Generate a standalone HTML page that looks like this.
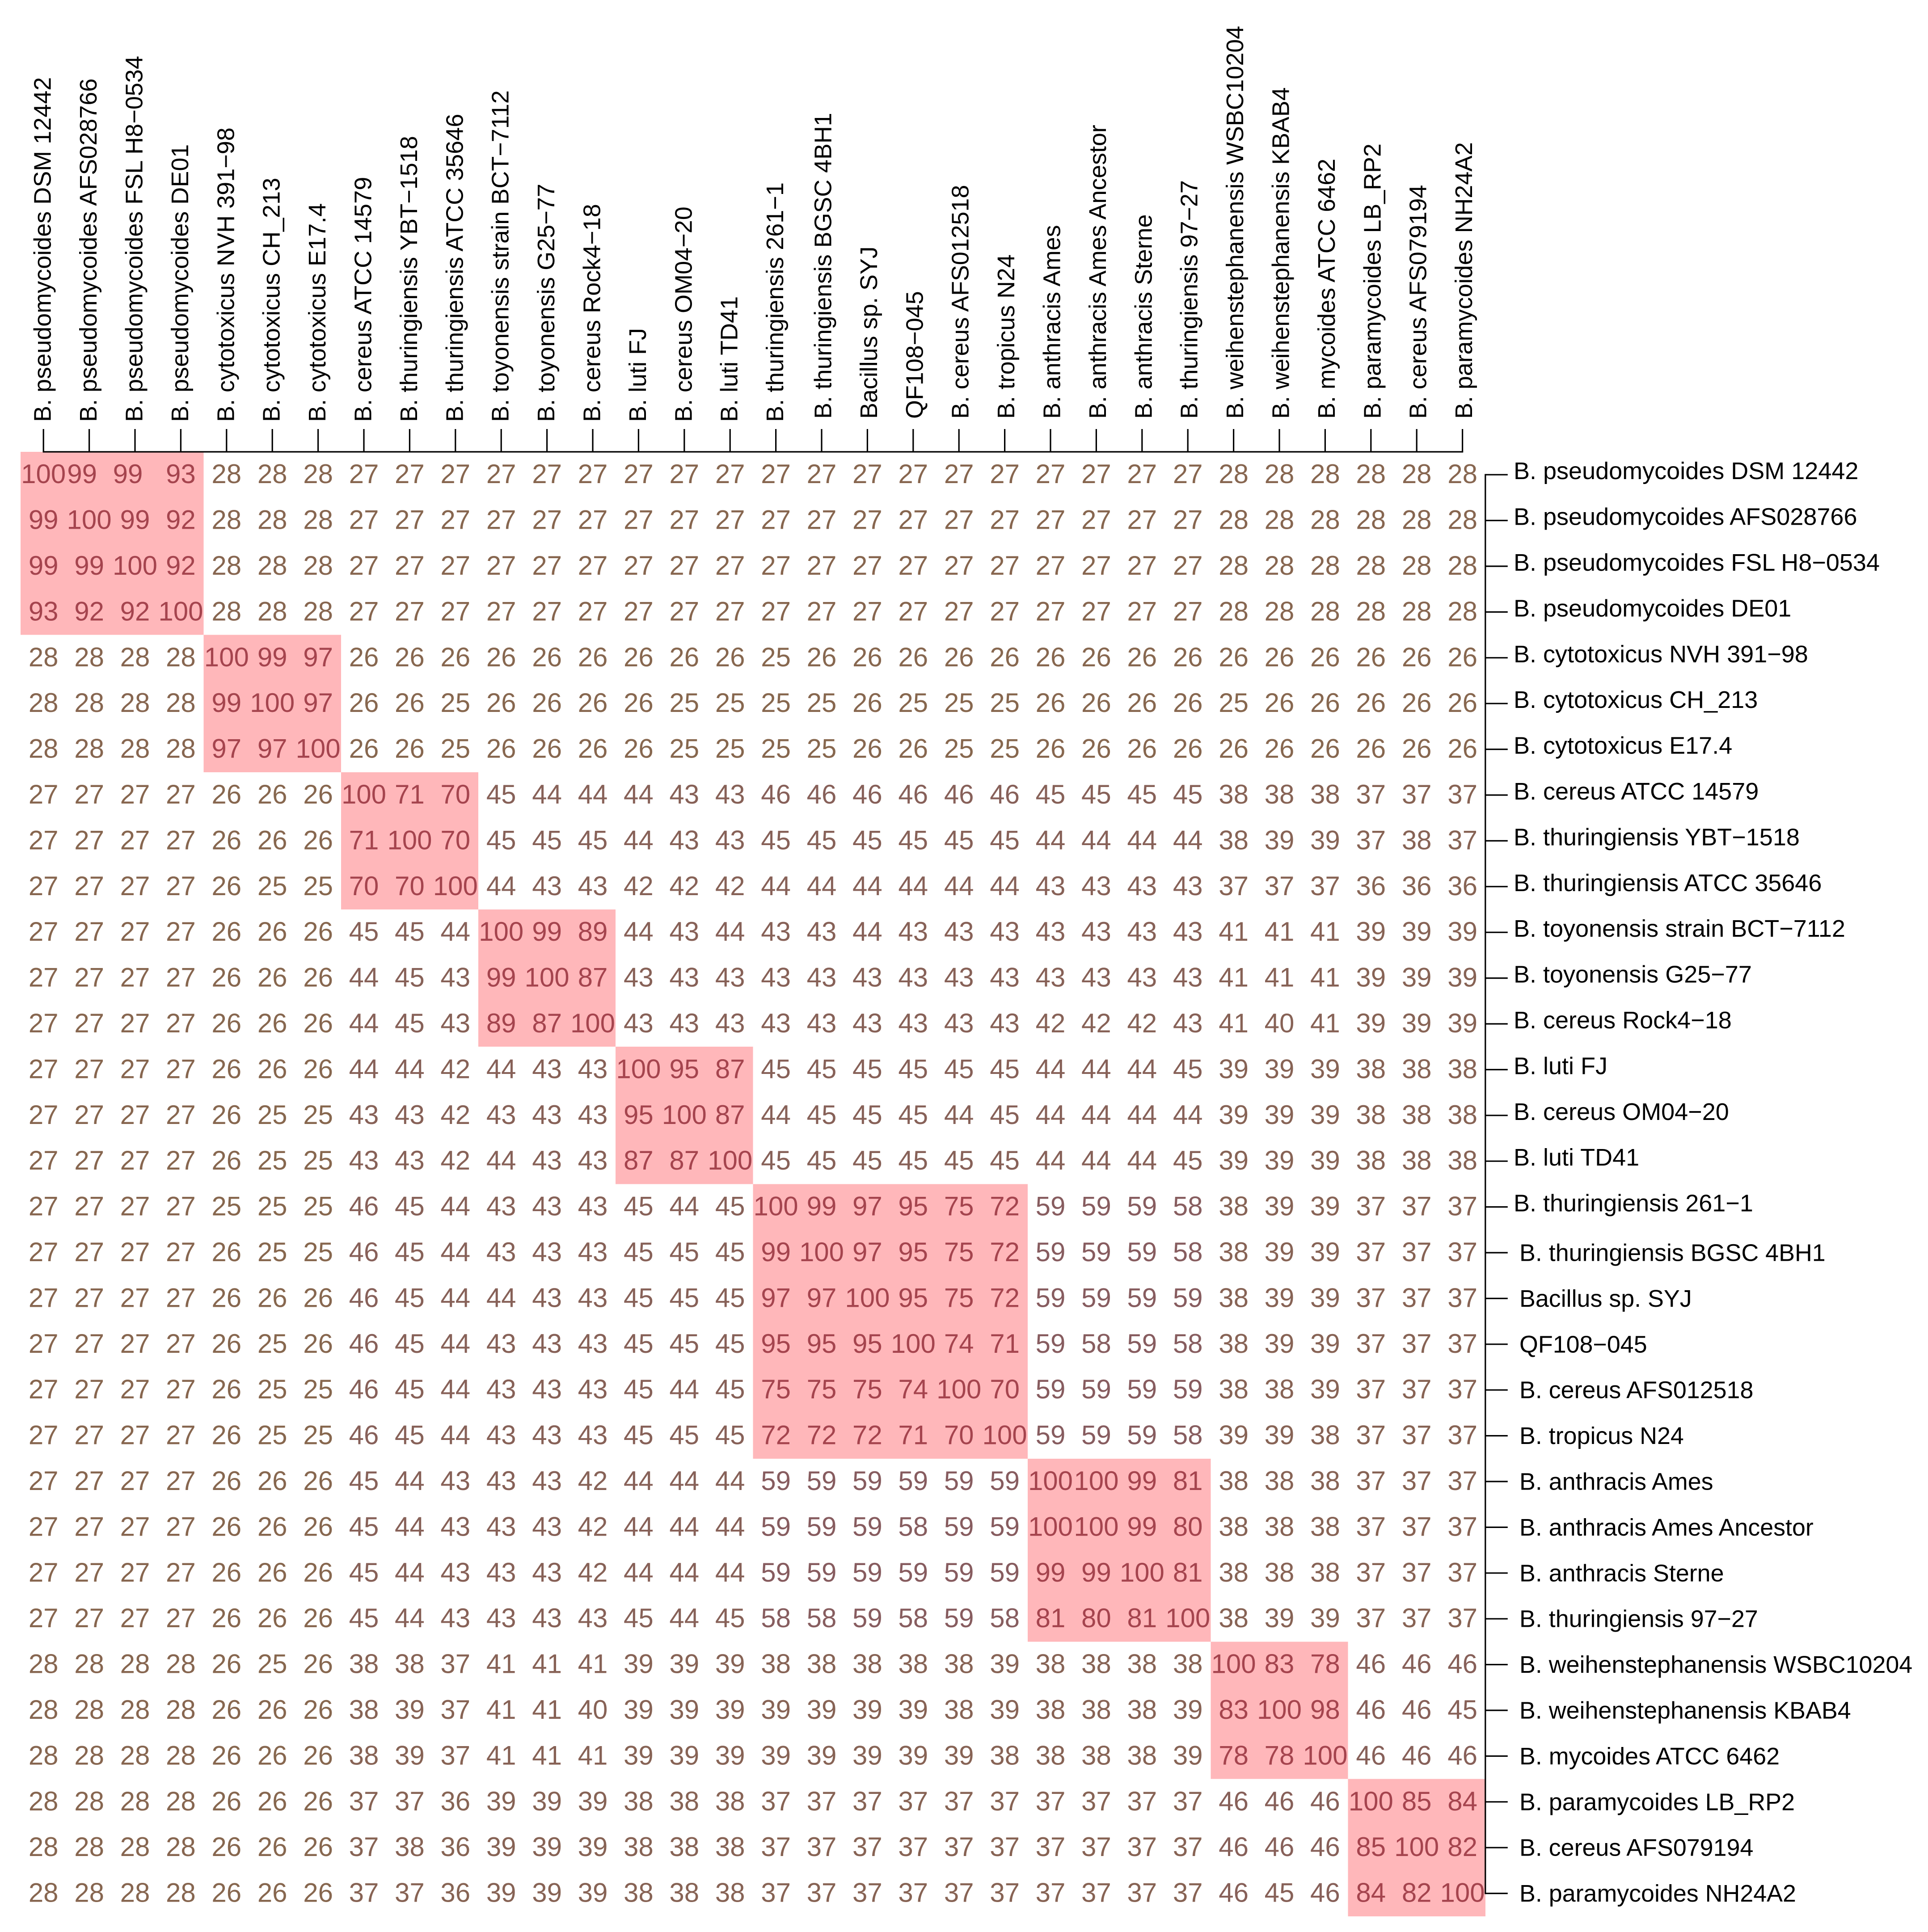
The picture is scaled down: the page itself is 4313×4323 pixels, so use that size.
<!DOCTYPE html>
<html lang="en">
<head>
<meta charset="utf-8">
<title>Pairwise identity heatmap of Bacillus strains</title>
<style>
  html, body { margin: 0; padding: 0; background: #ffffff; }
  svg { display: block; font-family: "Liberation Sans", Arial, sans-serif; }
</style>
</head>
<body>
<svg id="chart" xmlns="http://www.w3.org/2000/svg" width="4313" height="4323" viewBox="0 0 4313 4323">
  <rect x="0" y="0" width="4313" height="4323" fill="#ffffff"></rect>
  <g id="cells" shape-rendering="crispEdges"></g>
  <g id="top-axis"></g>
  <g id="right-axis"></g>
  <g id="values"></g>
</svg>
<script>
const strainLabels = [
  "B. pseudomycoides DSM 12442",
  "B. pseudomycoides AFS028766",
  "B. pseudomycoides FSL H8\u22120534",
  "B. pseudomycoides DE01",
  "B. cytotoxicus NVH 391\u221298",
  "B. cytotoxicus CH_213",
  "B. cytotoxicus E17.4",
  "B. cereus ATCC 14579",
  "B. thuringiensis YBT\u22121518",
  "B. thuringiensis ATCC 35646",
  "B. toyonensis strain BCT\u22127112",
  "B. toyonensis G25\u221277",
  "B. cereus Rock4\u221218",
  "B. luti FJ",
  "B. cereus OM04\u221220",
  "B. luti TD41",
  "B. thuringiensis 261\u22121",
  "B. thuringiensis BGSC 4BH1",
  "Bacillus sp. SYJ",
  "QF108\u2212045",
  "B. cereus AFS012518",
  "B. tropicus N24",
  "B. anthracis Ames",
  "B. anthracis Ames Ancestor",
  "B. anthracis Sterne",
  "B. thuringiensis 97\u221227",
  "B. weihenstephanensis WSBC10204",
  "B. weihenstephanensis KBAB4",
  "B. mycoides ATCC 6462",
  "B. paramycoides LB_RP2",
  "B. cereus AFS079194",
  "B. paramycoides NH24A2"
];

const identityValues = [
  [100,99,99,93,28,28,28,27,27,27,27,27,27,27,27,27,27,27,27,27,27,27,27,27,27,27,28,28,28,28,28,28],
  [99,100,99,92,28,28,28,27,27,27,27,27,27,27,27,27,27,27,27,27,27,27,27,27,27,27,28,28,28,28,28,28],
  [99,99,100,92,28,28,28,27,27,27,27,27,27,27,27,27,27,27,27,27,27,27,27,27,27,27,28,28,28,28,28,28],
  [93,92,92,100,28,28,28,27,27,27,27,27,27,27,27,27,27,27,27,27,27,27,27,27,27,27,28,28,28,28,28,28],
  [28,28,28,28,100,99,97,26,26,26,26,26,26,26,26,26,25,26,26,26,26,26,26,26,26,26,26,26,26,26,26,26],
  [28,28,28,28,99,100,97,26,26,25,26,26,26,26,25,25,25,25,26,25,25,25,26,26,26,26,25,26,26,26,26,26],
  [28,28,28,28,97,97,100,26,26,25,26,26,26,26,25,25,25,25,26,26,25,25,26,26,26,26,26,26,26,26,26,26],
  [27,27,27,27,26,26,26,100,71,70,45,44,44,44,43,43,46,46,46,46,46,46,45,45,45,45,38,38,38,37,37,37],
  [27,27,27,27,26,26,26,71,100,70,45,45,45,44,43,43,45,45,45,45,45,45,44,44,44,44,38,39,39,37,38,37],
  [27,27,27,27,26,25,25,70,70,100,44,43,43,42,42,42,44,44,44,44,44,44,43,43,43,43,37,37,37,36,36,36],
  [27,27,27,27,26,26,26,45,45,44,100,99,89,44,43,44,43,43,44,43,43,43,43,43,43,43,41,41,41,39,39,39],
  [27,27,27,27,26,26,26,44,45,43,99,100,87,43,43,43,43,43,43,43,43,43,43,43,43,43,41,41,41,39,39,39],
  [27,27,27,27,26,26,26,44,45,43,89,87,100,43,43,43,43,43,43,43,43,43,42,42,42,43,41,40,41,39,39,39],
  [27,27,27,27,26,26,26,44,44,42,44,43,43,100,95,87,45,45,45,45,45,45,44,44,44,45,39,39,39,38,38,38],
  [27,27,27,27,26,25,25,43,43,42,43,43,43,95,100,87,44,45,45,45,44,45,44,44,44,44,39,39,39,38,38,38],
  [27,27,27,27,26,25,25,43,43,42,44,43,43,87,87,100,45,45,45,45,45,45,44,44,44,45,39,39,39,38,38,38],
  [27,27,27,27,25,25,25,46,45,44,43,43,43,45,44,45,100,99,97,95,75,72,59,59,59,58,38,39,39,37,37,37],
  [27,27,27,27,26,25,25,46,45,44,43,43,43,45,45,45,99,100,97,95,75,72,59,59,59,58,38,39,39,37,37,37],
  [27,27,27,27,26,26,26,46,45,44,44,43,43,45,45,45,97,97,100,95,75,72,59,59,59,59,38,39,39,37,37,37],
  [27,27,27,27,26,25,26,46,45,44,43,43,43,45,45,45,95,95,95,100,74,71,59,58,59,58,38,39,39,37,37,37],
  [27,27,27,27,26,25,25,46,45,44,43,43,43,45,44,45,75,75,75,74,100,70,59,59,59,59,38,38,39,37,37,37],
  [27,27,27,27,26,25,25,46,45,44,43,43,43,45,45,45,72,72,72,71,70,100,59,59,59,58,39,39,38,37,37,37],
  [27,27,27,27,26,26,26,45,44,43,43,43,42,44,44,44,59,59,59,59,59,59,100,100,99,81,38,38,38,37,37,37],
  [27,27,27,27,26,26,26,45,44,43,43,43,42,44,44,44,59,59,59,58,59,59,100,100,99,80,38,38,38,37,37,37],
  [27,27,27,27,26,26,26,45,44,43,43,43,42,44,44,44,59,59,59,59,59,59,99,99,100,81,38,38,38,37,37,37],
  [27,27,27,27,26,26,26,45,44,43,43,43,43,45,44,45,58,58,59,58,59,58,81,80,81,100,38,39,39,37,37,37],
  [28,28,28,28,26,25,26,38,38,37,41,41,41,39,39,39,38,38,38,38,38,39,38,38,38,38,100,83,78,46,46,46],
  [28,28,28,28,26,26,26,38,39,37,41,41,40,39,39,39,39,39,39,39,38,39,38,38,38,39,83,100,98,46,46,45],
  [28,28,28,28,26,26,26,38,39,37,41,41,41,39,39,39,39,39,39,39,39,38,38,38,38,39,78,78,100,46,46,46],
  [28,28,28,28,26,26,26,37,37,36,39,39,39,38,38,38,37,37,37,37,37,37,37,37,37,37,46,46,46,100,85,84],
  [28,28,28,28,26,26,26,37,38,36,39,39,39,38,38,38,37,37,37,37,37,37,37,37,37,37,46,46,46,85,100,82],
  [28,28,28,28,26,26,26,37,37,36,39,39,39,38,38,38,37,37,37,37,37,37,37,37,37,37,46,45,46,84,82,100]
];

const highlightThreshold = 70;

const SVG_NS = "http://www.w3.org/2000/svg";
const gridLeft = 46;
const gridTop = 1011;
const cellSize = 102.4;
const secondPanelStart = 17;

function xScale(index) { return gridLeft + (index + 0.5) * cellSize; }
function yScale(index) { return gridTop + (index + 0.5) * cellSize; }

function lerp(a, b, t) { return a + (b - a) * t; }
function textColor(value) {
  const low = [135, 103, 78];
  const mid = [135, 92, 96];
  const high = [165, 68, 78];
  let c;
  if (value < 60) {
    const t = Math.max(0, (value - 25) / 35);
    c = low.map(function (v, i) { return lerp(v, mid[i], t); });
  } else {
    const t = Math.min(1, (value - 60) / 10);
    c = mid.map(function (v, i) { return lerp(v, high[i], t); });
  }
  return "rgb(" + c.map(Math.round).join(",") + ")";
}

function make(tag, attrs, parent) {
  const el = document.createElementNS(SVG_NS, tag);
  Object.keys(attrs).forEach(function (k) { el.setAttribute(k, attrs[k]); });
  parent.appendChild(el);
  return el;
}

const cellsGroup = document.getElementById("cells");
const valuesGroup = document.getElementById("values");
const topAxis = document.getElementById("top-axis");
const rightAxis = document.getElementById("right-axis");
const lineWidth = 3.2;

identityValues.forEach(function (row, r) {
  row.forEach(function (value, c) {
    const rect = make("rect", {
      x: gridLeft + c * cellSize,
      y: gridTop + r * cellSize,
      width: cellSize,
      height: cellSize,
      fill: value >= highlightThreshold ? "#ffb7ba" : "#ffffff"
    }, cellsGroup);
    
    

    const nudge = (r === 0 && (c === 1 || c === 2)) ? -16 : 0;
    const label = make("text", {
      x: xScale(c) + nudge,
      y: yScale(r) + 19,
      "text-anchor": "middle",
      "font-size": 60,
      fill: textColor(value)
    }, valuesGroup);
    
    
    label.textContent = String(value);
  });
});

const lastIndex = strainLabels.length - 1;

const topLine = make("line", {
  x1: xScale(0) - lineWidth / 2, x2: xScale(lastIndex) + lineWidth / 2,
  y1: gridTop, y2: gridTop,
  stroke: "#000", "stroke-width": lineWidth
}, topAxis);



const rightLine = make("line", {
  x1: gridLeft + strainLabels.length * cellSize, x2: gridLeft + strainLabels.length * cellSize,
  y1: yScale(0) - lineWidth / 2, y2: yScale(lastIndex) + lineWidth / 2,
  stroke: "#000", "stroke-width": lineWidth
}, rightAxis);



strainLabels.forEach(function (name, i) {
  const panel2 = i >= secondPanelStart;
  const fontSize = panel2 ? 53.8 : 54;

  const topTick = make("line", {
    x1: xScale(i), x2: xScale(i), y1: gridTop, y2: gridTop - 51,
    stroke: "#000", "stroke-width": lineWidth
  }, topAxis);
  
  

  const tx = xScale(i) + (panel2 ? 21.5 : 16.5);
  const ty = panel2 ? 937 : 944;
  const topLabel = make("text", {
    x: tx, y: ty,
    transform: "rotate(-90 " + tx + " " + ty + ")",
    "font-size": fontSize,
    fill: "#000"
  }, topAxis);
  
  
  topLabel.textContent = name;

  const axisX = gridLeft + strainLabels.length * cellSize;
  const rightTick = make("line", {
    x1: axisX, x2: axisX + 50, y1: yScale(i), y2: yScale(i),
    stroke: "#000", "stroke-width": lineWidth
  }, rightAxis);
  
  

  const rightLabel = make("text", {
    x: panel2 ? 3399 : 3386,
    y: yScale(i) + (panel2 ? 18.5 : 10),
    "font-size": fontSize,
    fill: "#000"
  }, rightAxis);
  
  
  rightLabel.textContent = name;
});
</script>
</body>
</html>
